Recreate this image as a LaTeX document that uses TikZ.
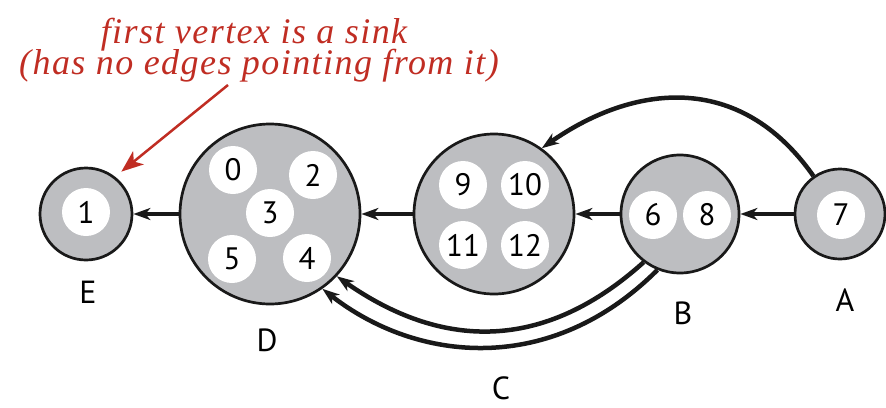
\documentclass[tikz,border=0pt]{standalone}
\usepackage{fontspec}
\setmainfont{Liberation Serif}
\setsansfont{PT Sans}
\usetikzlibrary{arrows.meta}
\definecolor{vgray}{RGB}{189,190,193}
\definecolor{annred}{RGB}{192,45,35}
\begin{document}
\begin{tikzpicture}[x=1pt,y=1pt,
  big/.style={circle, draw=black!90, line width=2.7pt, fill=vgray, inner sep=0pt},
  vtx/.style={circle, fill=white, inner sep=0pt, minimum size=48pt, font=\sffamily\fontsize{31}{31}\selectfont},
  lab/.style={font=\sffamily\fontsize{32}{32}\selectfont, inner sep=0pt},
  edge/.style={line width=4.5pt, draw=black!90, -{Stealth[length=17pt,width=12pt,inset=5pt]}},
  annarrow/.style={line width=2.5pt, draw=annred, -{Stealth[length=22pt,width=17pt,inset=6pt]}},
  ann/.style={font=\itshape\fontsize{36}{36}\selectfont\addfontfeatures{LetterSpace=4}, text=annred, anchor=base, inner sep=0pt}]
\useasboundingbox (0,0) rectangle (886,-407);
% big vertices
\node[big, minimum size=92pt] (cE) at (86,-214) {};
\node[big, minimum size=180pt] (cD) at (270,-214) {};
\node[big, minimum size=160pt] (cC) at (494,-214) {};
\node[big, minimum size=118pt] (cB) at (680,-214) {};
\node[big, minimum size=90pt] (cA) at (840,-214) {};
% inner vertices
\node[vtx] (v1) at (86,-212) {1};
\node[vtx] (v0) at (233,-170) {0};
\node[vtx] (v2) at (313,-175) {2};
\node[vtx] (v3) at (270,-213) {3};
\node[vtx] (v5) at (232,-259) {5};
\node[vtx] (v4) at (307,-258) {4};
\node[vtx] (v9) at (463,-185) {9};
\node[vtx] (v10) at (525,-185) {10};
\node[vtx] (v11) at (463,-245) {11};
\node[vtx] (v12) at (525,-245) {12};
\node[vtx] (v6) at (653,-215) {6};
\node[vtx] (v8) at (707,-215) {8};
\node[vtx] (v7) at (841,-215) {7};
% labels
\node[lab] (lE) at (88,-292) {E};
\node[lab] (lD) at (267,-340) {D};
\node[lab] (lC) at (501,-388) {C};
\node[lab] (lB) at (683,-313) {B};
\node[lab] (lA) at (845,-300) {A};
% edges
\draw[edge] (cD) -- (cE);
\draw[edge] (cC) -- (cD);
\draw[edge] (cB) -- (cC);
\draw[edge] (cA) -- (cB);
\draw[edge] (cA.125) .. controls +(125:130) and +(35:110) .. (cC.54);
\draw[edge] (cB.233) .. controls +(222:145) and +(-35:117) .. (cD.-43);
\draw[edge] (cB.248) .. controls +(225:150) and +(-38:121) .. (cD.-55);
% annotation
\node[ann] (t1) at (254,-43) {first vertex is a sink};
\node[ann] (t2) at (259,-74) {(has no edges pointing from it)};
\coordinate (ra) at (228,-85);
\draw[annarrow, shorten >=8pt] (ra) -- (cE.52);
\end{tikzpicture}
\end{document}
